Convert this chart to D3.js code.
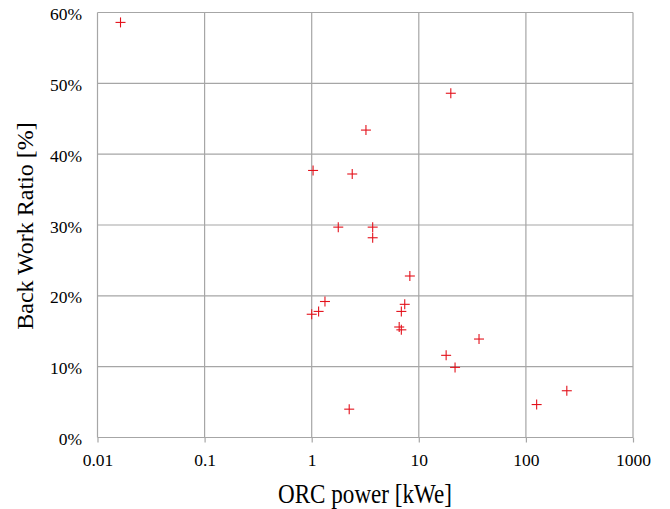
<!DOCTYPE html>
<html>
<head>
<meta charset="utf-8">
<script src="https://cdn.jsdelivr.net/npm/d3@7"></script>
<style>
    body { margin: 0; background: #fff; }
    svg text { font-family: 'Liberation Serif', 'DejaVu Serif', serif !important; }
</style>
</head>
<body>
<div class="chartdiv"></div>
<script>
// ORC power [kWe] for each plant
let powerKWe = [0.0164, 19.9, 3.21, 1.03, 2.39, 1.77, 3.71, 3.71, 8.25, 1.33, 7.39,
    6.87, 1.16, 1.0, 6.56, 6.87, 36.5, 18.0, 21.8, 241, 126, 2.24]
// back work ratio [%]
let backWorkRatio = [58.6, 48.6, 43.4, 37.7, 37.2, 29.7, 29.7, 28.2, 22.8, 19.2, 18.8,
    17.8, 17.8, 17.4, 15.6, 15.2, 13.9, 11.6, 9.9, 6.6, 4.65, 4.0]
let xTicks = [0.01, 0.1, 1, 10, 100, 1000]
let yTicks = [0, 10, 20, 30, 40, 50, 60]

let w = 670, h = 509
let padL = 97.5, padR = 633, padT = 12.5, padB = 437.5
let serif = "'Liberation Serif', 'DejaVu Serif', serif"

let data = powerKWe.map((d, i) => ({ x: d, y: backWorkRatio[i] }))

let svg = d3.select('.chartdiv').append('svg')
    .attr('width', w)
    .attr('height', h)

let xScale = d3.scaleLog().domain([0.01, 1000]).range([padL, padR])
let yScale = d3.scaleLinear().domain([0, 60]).range([padB, padT])

// grid lines
svg.append('g').selectAll('line.vgrid')
    .data(xTicks).enter().append('line')
    .attr('x1', d => xScale(d)).attr('x2', d => xScale(d))
    .attr('y1', padT).attr('y2', padB)
    .attr('stroke', '#a6a6a6').attr('stroke-width', 1.2)

svg.append('g').selectAll('line.hgrid')
    .data(yTicks).enter().append('line')
    .attr('y1', d => yScale(d)).attr('y2', d => yScale(d))
    .attr('x1', padL).attr('x2', padR)
    .attr('stroke', '#a6a6a6').attr('stroke-width', 1.2)

// axes (labels + small ticks below x axis)
let xAxis = d3.axisBottom(xScale).tickValues(xTicks).tickFormat(d => String(d)).tickSize(5)
let gx = svg.append('g').attr('transform', 'translate(0,' + padB + ')').call(xAxis)
    .attr('font-family', serif).attr('font-size', 17.5)
gx.select('.domain').remove()
gx.selectAll('.tick line').attr('stroke', '#a6a6a6').attr('stroke-width', 1.2)
gx.selectAll('.tick text').attr('y', 16).attr('fill', '#000')

let yAxis = d3.axisLeft(yScale).tickValues(yTicks).tickFormat(d => d + '%').tickSize(0)
let gy = svg.append('g').attr('transform', 'translate(' + padL + ',0)').call(yAxis)
    .attr('font-family', serif).attr('font-size', 17.5)
gy.select('.domain').remove()
gy.selectAll('.tick text').attr('x', -15.5).attr('dy', '0.4em').attr('fill', '#000')

// markers
let arm = 5
let pts = svg.append('g').selectAll('g.pt')
    .data(data).enter().append('g')
    .attr('transform', d => 'translate(' + xScale(d.x) + ',' + yScale(d.y) + ')')
pts.append('line').attr('x1', -arm).attr('x2', arm).attr('y1', 0).attr('y2', 0)
    .attr('stroke', '#e3111b').attr('stroke-width', 1.1)
pts.append('line').attr('x1', 0).attr('x2', 0).attr('y1', -arm).attr('y2', arm)
    .attr('stroke', '#e3111b').attr('stroke-width', 1.1)

// axis titles
svg.append('text')
    .attr('x', 278).attr('y', 503)
    .attr('font-family', serif)
    .attr('font-size', 28)
    .attr('textLength', 174)
    .attr('lengthAdjust', 'spacingAndGlyphs')
    .text('ORC power [kWe]')

svg.append('text')
    .attr('transform', 'translate(33,226) rotate(-90)')
    .attr('text-anchor', 'middle')
    .attr('font-family', serif)
    .attr('font-size', 24)
    .text('Back Work Ratio [%]')
</script>
</body>
</html>
